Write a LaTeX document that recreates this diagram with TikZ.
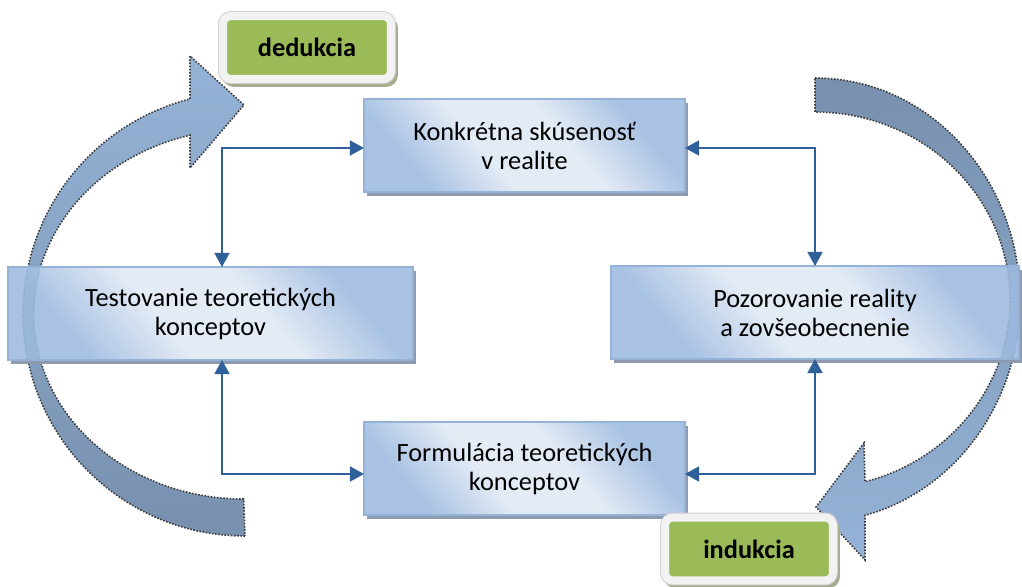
\documentclass[tikz,border=0pt]{standalone}
\usepackage{fontspec}
\setmainfont{Carlito}
\usetikzlibrary{arrows.meta}
\pgfdeclarelayer{back}
\pgfdeclarelayer{mid}
\pgfsetlayers{back,mid,main}

\definecolor{boxline}{HTML}{95B3D7}
\definecolor{boxdark}{HTML}{9DBADF}
\definecolor{boxlight}{HTML}{DFE8F4}
\definecolor{boxshadow}{HTML}{8E9AAD}
\definecolor{connc}{HTML}{30609A}
\definecolor{arrlight}{HTML}{95B3D7}
\definecolor{arrdark}{HTML}{7890AE}
\definecolor{arredge}{HTML}{3C3C3C}
\definecolor{lblgreen}{HTML}{9BBB59}
\definecolor{lblframe}{HTML}{F2F2F2}
\definecolor{lbledge}{HTML}{D0D0D0}
\definecolor{lblshadow}{HTML}{A5AE8E}

% light diagonal band across each stage box
\pgfdeclareverticalshading{stageshade}{100bp}{color(0bp)=(boxdark); color(27bp)=(boxdark);
  color(42bp)=(boxlight); color(58bp)=(boxlight); color(73bp)=(boxdark); color(100bp)=(boxdark)}

\tikzset{
  stage/.style={shade, shading=stageshade, shading angle=-50, fill opacity=0.88, text opacity=1,
    draw=boxline, line width=0.9pt,
    minimum height=1.86cm, inner sep=0pt, outer sep=0pt, align=center,
    font=\fontsize{15}{16.5}\selectfont},
  cyclearrow/.style={draw=arredge, dash pattern=on 0.9pt off 0.9pt, line width=0.9pt},
  conn/.style={draw=connc, line width=1.1pt,
    arrows={Triangle[length=8pt,width=8.5pt]-Triangle[length=8pt,width=8.5pt]}},
  methodtag/.style={fill=lblgreen, draw=lblframe, line width=0.16cm, rounded corners=0.16cm,
    minimum width=3.36cm, minimum height=1.26cm, inner sep=0pt, outer sep=0pt,
    font=\fontsize{15}{16.5}\selectfont\bfseries,
    preaction={draw=lbledge, line width=0.2cm}}
}

% drop shadow strip to the right of and below a stage box
\newcommand\stageshadow[1]{%
  \fill[boxshadow] ([shift={(3,0)}]#1.south west) -- (#1.south east)
    -- ([shift={(0,4)}]#1.north east) -- ([shift={(3,4)}]#1.north east)
    -- ([shift={(3,4)}]#1.south east) -- ([shift={(3,4)}]#1.south west) -- cycle;}
% drop shadow of a method tag
\newcommand\tagshadow[1]{%
  \fill[lblshadow, rounded corners=0.24cm] ([shift={(-1,0)}]#1.north west)
    rectangle ([shift={(7,8)}]#1.south east);}

\begin{document}
\begin{tikzpicture}[x=0.02cm, y=-0.02cm]
\useasboundingbox (0,0) rectangle (1022,587);

% the four stages of the cycle
\node[stage, minimum width=6.42cm] (tb) at (524.5,145.5) {Konkrétna skúsenosť\\v realite};
\node[stage, minimum width=8.1cm]  (lb) at (210.5,313.5) {Testovanie teoretických\\konceptov};
\node[stage, minimum width=8.16cm] (rb) at (815,312.5) {Pozorovanie reality\\a zovšeobecnenie};
\node[stage, minimum width=6.42cm] (bb) at (524.5,468.5) {Formulácia teoretických\\konceptov};

% large curved arrows behind the stages
\begin{pgfonlayer}{back}
  \shade[top color=arrlight, bottom color=arrdark]
    (245,536) arc[start angle=90, end angle=255.66, x radius=222, y radius=222]
    -- (190,56) -- (244,105) -- (190,168) -- (190,135.2)
    arc[start angle=255.18, end angle=90, x radius=210, y radius=185] -- cycle;
  \draw[cyclearrow]
    (245,536) arc[start angle=90, end angle=255.66, x radius=222, y radius=222]
    -- (190,56) -- (244,105) -- (190,168) -- (190,135.2)
    arc[start angle=255.18, end angle=90, x radius=210, y radius=185] -- cycle;
  \shade[top color=arrdark, bottom color=arrlight]
    (815,78) arc[start angle=270, end angle=435.88, x radius=205, y radius=222]
    -- (865,560) -- (816,507) -- (864,443) -- (865,481.7)
    arc[start angle=435.14, end angle=270, x radius=195, y radius=188] -- cycle;
  \draw[cyclearrow]
    (815,78) arc[start angle=270, end angle=435.88, x radius=205, y radius=222]
    -- (865,560) -- (816,507) -- (864,443) -- (865,481.7)
    arc[start angle=435.14, end angle=270, x radius=195, y radius=188] -- cycle;
\end{pgfonlayer}

\begin{pgfonlayer}{mid}
  \stageshadow{tb}
  \stageshadow{lb}
  \stageshadow{rb}
  \stageshadow{bb}
\end{pgfonlayer}

% connectors between the stages
\coordinate (xl) at (222,0);
\coordinate (xr) at (815,0);
\coordinate (yt) at (0,148);
\coordinate (yb) at (0,474);
\draw[conn] (tb.west |- yt) -| (lb.north -| xl);
\draw[conn] (tb.east |- yt) -| (rb.north -| xr);
\draw[conn] (lb.south -| xl) |- (bb.west |- yb);
\draw[conn] (rb.south -| xr) |- (bb.east |- yb);

% method tags
\node[methodtag] (ded) at (307,47.5) {dedukcia};
\node[methodtag] (ind) at (749,549) {indukcia};
\begin{pgfonlayer}{mid}
  \tagshadow{ded}
  \tagshadow{ind}
\end{pgfonlayer}
\end{tikzpicture}
\end{document}
